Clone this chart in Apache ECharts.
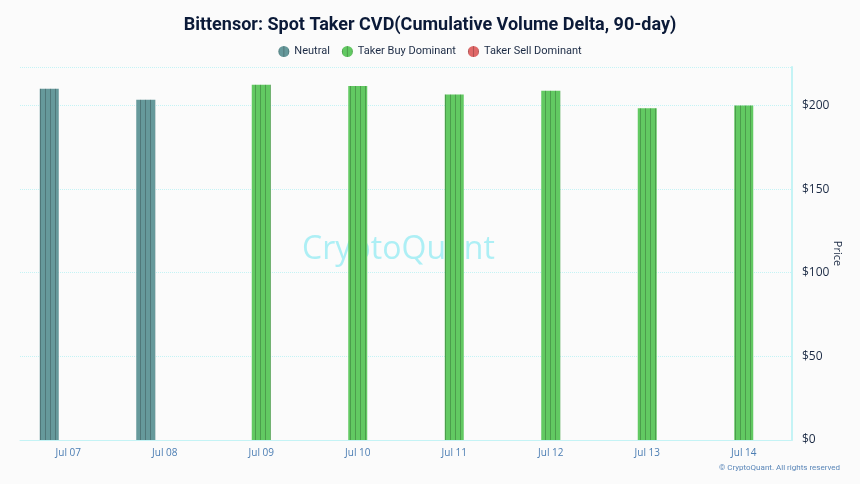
<!DOCTYPE html>
<html>
<head>
<meta charset="utf-8">
<script src="https://cdn.jsdelivr.net/npm/echarts@6/dist/echarts.min.js"></script>
<style>
  html, body { margin: 0; padding: 0; background: #fbfbfb; }
  #chart { width: 860px; height: 484px; }
</style>
</head>
<body>
<div id="chart"></div>
<script>
// 数据
var days = ['Jul 07', 'Jul 08', 'Jul 09', 'Jul 10', 'Jul 11', 'Jul 12', 'Jul 13', 'Jul 14'];
var neutral = [210.0, 203.4, null, null, null, null, null, null];
var takerBuy = [null, null, 212.4, 211.7, 206.6, 208.8, 198.4, 200.0];
var takerSell = [null, null, null, null, null, null, null, null];

var stripes = {
    symbol: 'rect',
    symbolSize: 1,
    color: 'rgba(0,0,0,0.22)',
    dashArrayX: [1, 4],
    dashArrayY: [1, 0],
    rotation: 0
};

var chart = echarts.init(document.getElementById('chart'));
var option = {
    backgroundColor: '#fbfbfb',
    animation: false,
    title: {
        text: 'Bittensor: Spot Taker CVD(Cumulative Volume Delta, 90-day)',
        left: 'center',
        top: 11,
        textStyle: { color: '#0b1a38', fontSize: 18, fontWeight: 'bold', fontFamily: 'Roboto' }
    },
    legend: {
        top: 41,
        left: 'center',
        icon: 'circle',
        itemWidth: 11,
        itemHeight: 11,
        itemGap: 12,
        textStyle: { color: '#1b2a44', fontSize: 11, fontFamily: 'Roboto' },
        data: ['Neutral', 'Taker Buy Dominant', 'Taker Sell Dominant']
    },
    graphic: [
        {
            type: 'text', left: 302, top: 234,
            style: { text: 'CryptoQuant', fontSize: 32, fontFamily: 'Open Sans', fill: 'rgba(95,228,240,0.5)' },
            z: 0
        },
        {
            type: 'text', right: 20, top: 464,
            style: { text: '© CryptoQuant. All rights reserved', fontSize: 8, fontFamily: 'Roboto', fill: '#5a86b8' }
        }
    ],
    grid: { left: 20, right: 68, top: 67, bottom: 44 },
    xAxis: {
        type: 'category',
        data: days,
        axisLine: { lineStyle: { color: '#c4f3f5' } },
        axisTick: { alignWithLabel: true, length: 5, lineStyle: { color: '#c4f3f5' } },
        axisLabel: { color: '#4b7db3', fontSize: 10, margin: 8, fontFamily: 'Open Sans' },
        splitLine: { show: false }
    },
    yAxis: {
        type: 'value',
        position: 'right',
        min: 0,
        max: 223,
        interval: 50,
        name: 'Price',
        nameLocation: 'middle',
        nameRotate: -90,
        nameGap: 40,
        nameMoveOverlap: false,
        nameTextStyle: { color: '#1b2a44', fontSize: 11, fontFamily: 'Open Sans' },
        axisLine: { show: true, lineStyle: { color: '#c4f3f5', width: 2 } },
        axisTick: { show: false },
        axisLabel: {
            showMaxLabel: false,
            color: '#1b2a44', fontSize: 12, margin: 10, fontFamily: 'Open Sans',
            formatter: function (v) { return '$' + v; }
        },
        splitLine: { lineStyle: { color: '#c4f3f5', type: 'dotted' } }
    },
    series: [
        { name: 'Neutral', type: 'bar', barWidth: 19, barGap: '0%', data: neutral,
          itemStyle: { color: '#66999b', decal: stripes } },
        { name: 'Taker Buy Dominant', type: 'bar', barWidth: 19, barGap: '0%', data: takerBuy,
          itemStyle: { color: '#62c962', decal: stripes } },
        { name: 'Taker Sell Dominant', type: 'bar', barWidth: 19, barGap: '0%', data: takerSell,
          itemStyle: { color: '#e06868', decal: stripes } }
    ]
};
chart.setOption(option);
</script>
</body>
</html>
